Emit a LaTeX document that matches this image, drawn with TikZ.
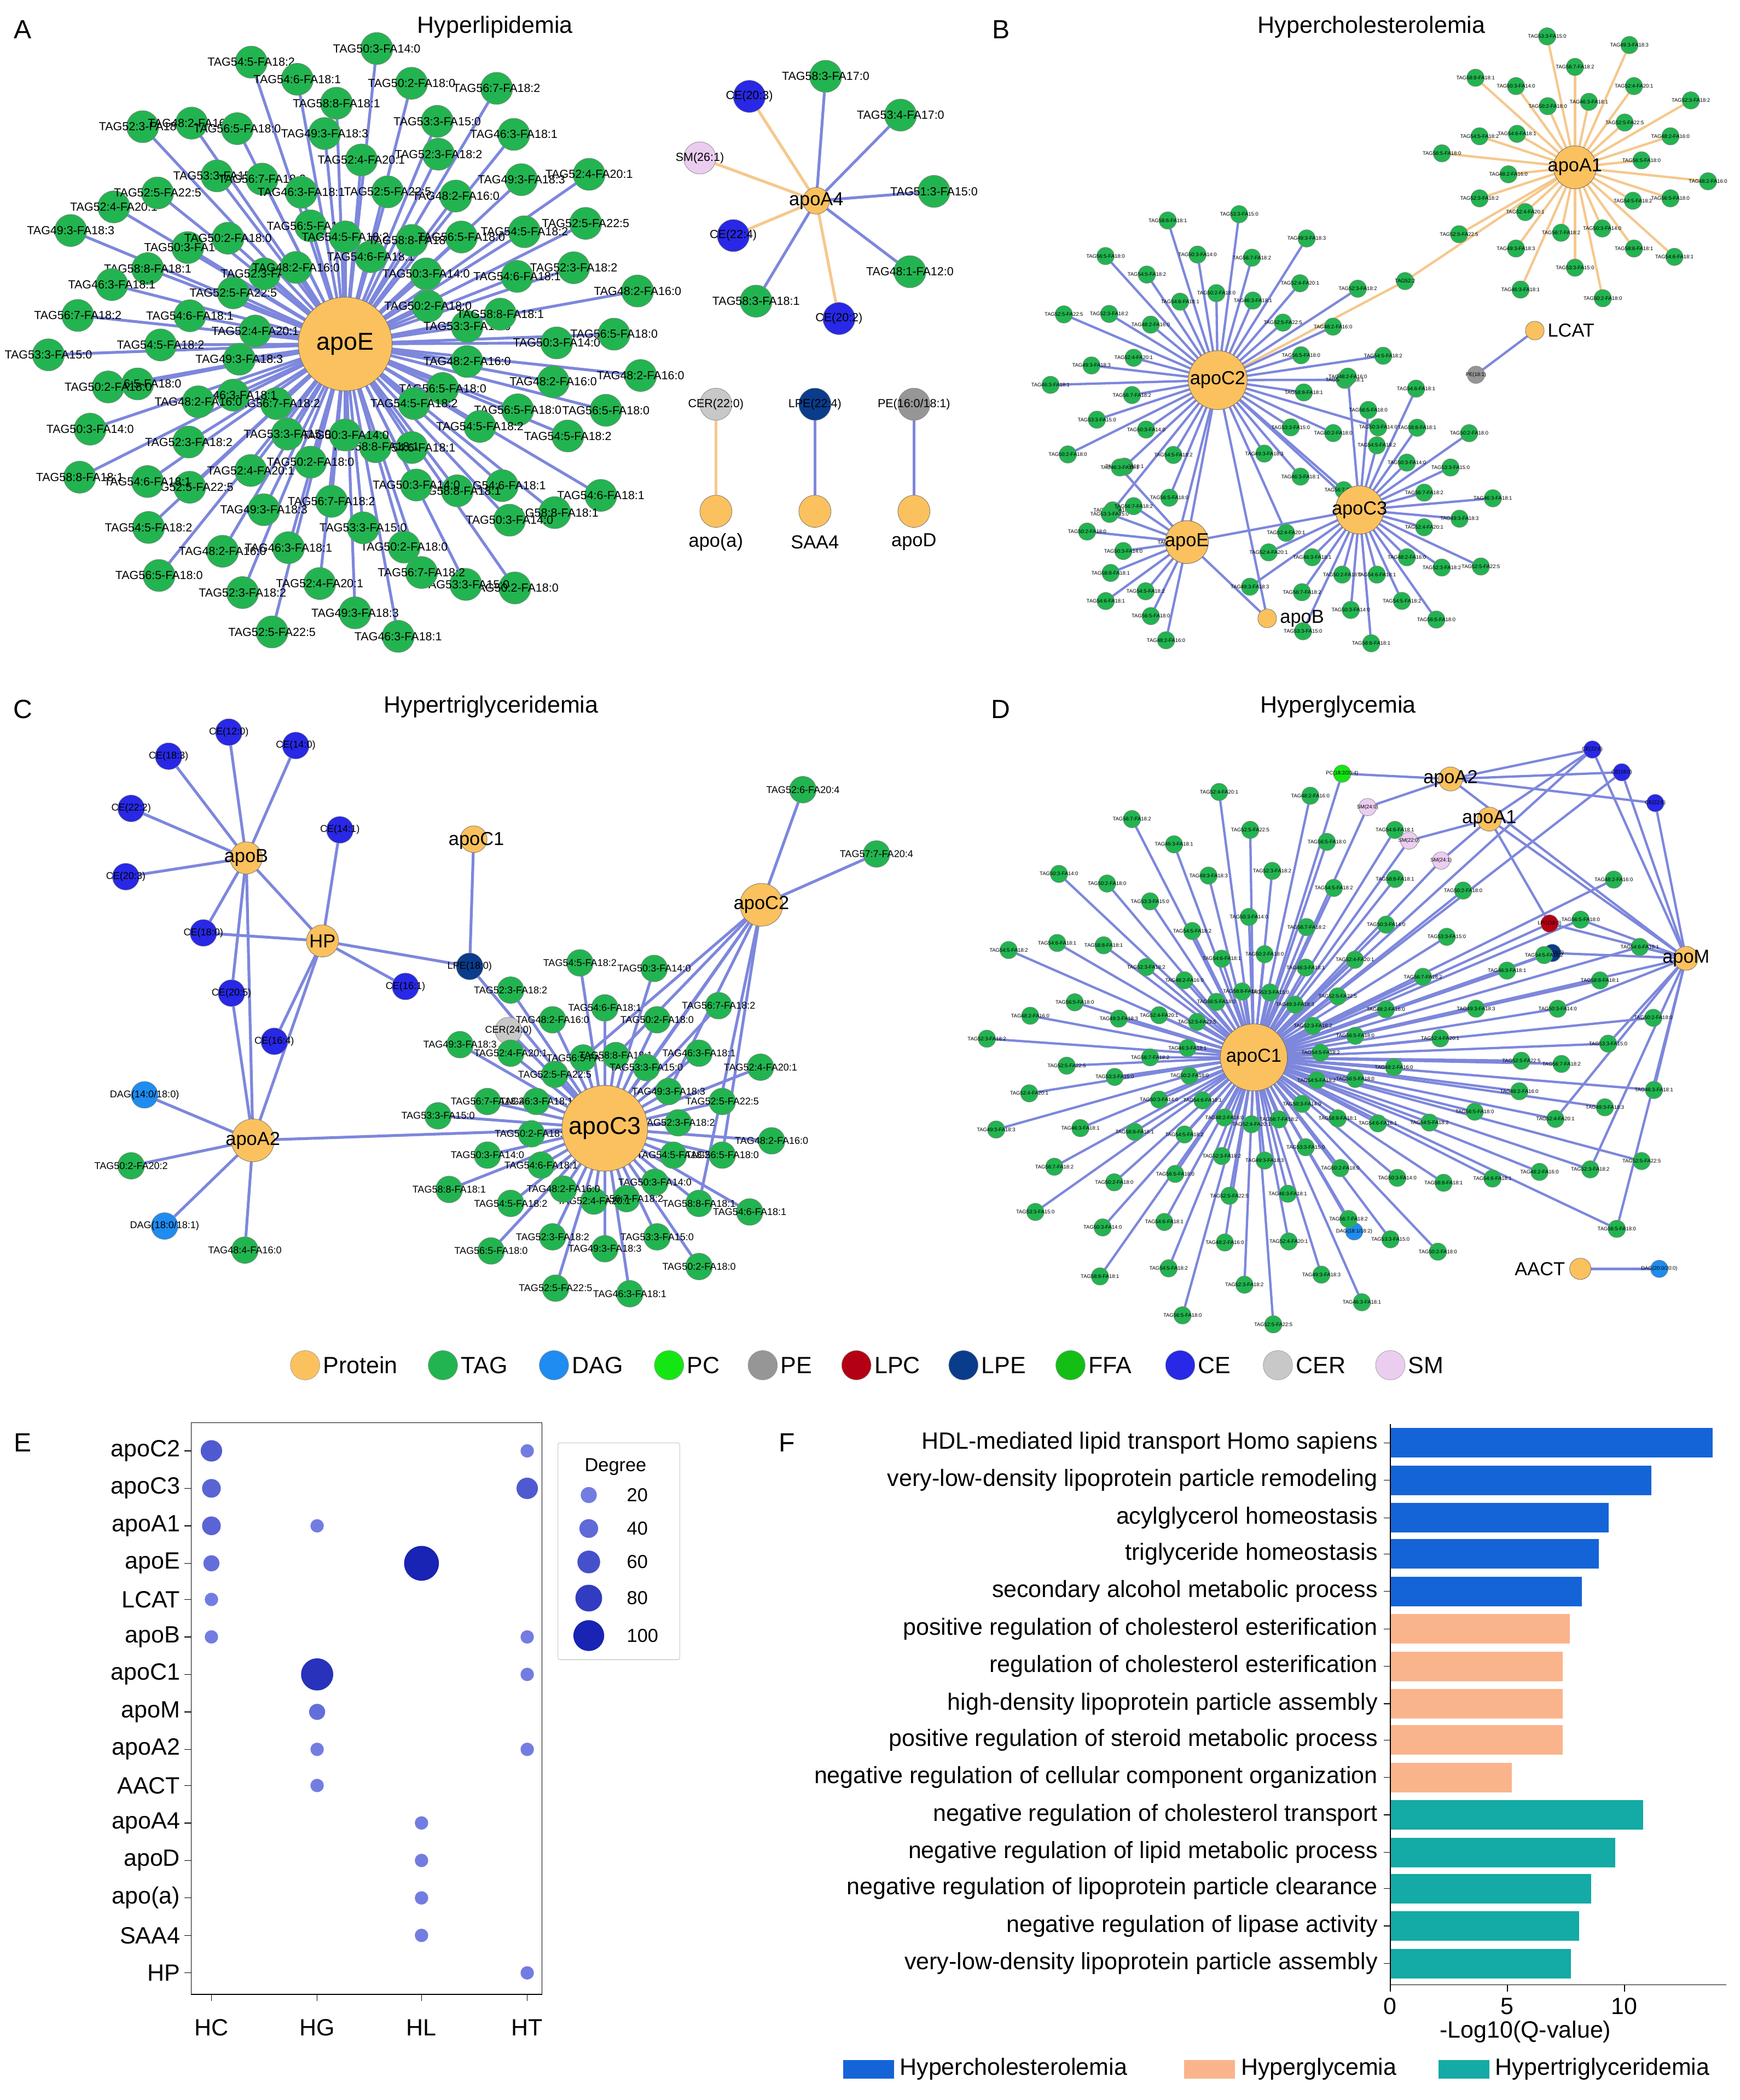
\documentclass[tikz,border=0pt]{standalone}
\usepackage{fontspec}
\setmainfont{Liberation Sans}
\usetikzlibrary{calc,backgrounds}
\definecolor{tagc}{RGB}{34,180,80}
\definecolor{protc}{RGB}{251,193,94}
\definecolor{dagc}{RGB}{30,140,240}
\definecolor{pcc}{RGB}{20,230,20}
\definecolor{pec}{RGB}{150,150,150}
\definecolor{lpcc}{RGB}{180,0,20}
\definecolor{lpec}{RGB}{10,60,140}
\definecolor{ffac}{RGB}{20,190,20}
\definecolor{cec}{RGB}{40,40,230}
\definecolor{cerc}{RGB}{200,200,200}
\definecolor{smc}{RGB}{235,205,240}
\definecolor{edgec}{RGB}{125,135,220}
\definecolor{oedgec}{RGB}{245,200,140}
\definecolor{dlight}{RGB}{125,135,230}
\definecolor{ddark}{RGB}{25,35,180}
\definecolor{fblue}{RGB}{20,100,215}
\definecolor{fpeach}{RGB}{250,180,140}
\definecolor{fteal}{RGB}{20,170,165}
\newcommand\labX[1]{\ifcase#1 TAG52:3-FA18:2\or TAG54:5-FA18:2\or TAG50:3-FA14:0\or TAG56:7-FA18:2\or TAG52:4-FA20:1\or TAG48:2-FA16:0\or TAG54:6-FA18:1\or TAG50:2-FA18:0\or TAG46:3-FA18:1\or TAG52:5-FA22:5\or TAG56:5-FA18:0\or TAG58:8-FA18:1\or TAG53:3-FA15:0\or TAG49:3-FA18:3\fi}
\newcommand\ring[8]{%
\begin{pgfonlayer}{background}
\foreach \i in {1,...,#3}{%
 \pgfmathsetmacro\ang{#6+#7/#3*(\i-0.5)}%
 \pgfmathsetmacro\rr{mod(\i,3)==0?#4:(mod(\i,3)==1?#5:(#4+#5)/2)}%
 \coordinate (#2c\i) at ($(#1)+(\ang:\rr)$);
 \draw[edge] (#1)--(#2c\i);
}
\end{pgfonlayer}
\foreach \i in {1,...,#3}{%
 \pgfmathtruncatemacro\k{mod(\i*5,14)}%
 \node[#8,label={[lab#8]center:\labX{\k}}] (#2\i) at (#2c\i) {};
}}
\tikzset{
 edge/.style={draw=edgec,line width=3pt},
 oedge/.style={draw=oedgec,line width=3pt},
 leafA/.style={circle,draw=black!50,fill=tagc,inner sep=0,minimum size=12mm},
 lableafA/.style={font=\fontsize{12.5}{13}\selectfont,inner sep=0},
 leafB/.style={circle,draw=black!50,fill=tagc,inner sep=0,minimum size=6.5mm},
 lableafB/.style={font=\fontsize{5.5}{6}\selectfont,inner sep=0},
 leafC/.style={circle,draw=black!50,fill=tagc,inner sep=0,minimum size=10mm},
 lableafC/.style={font=\fontsize{10.5}{11}\selectfont,inner sep=0},
 dot/.style={circle,draw=black!50,inner sep=0,minimum size=#1},
 dot/.default=10mm,
 prot/.style={circle,draw=black!60,fill=protc,inner sep=0,minimum size=#1},
 prot/.default=10mm,
 tit/.style={font=\fontsize{25}{28}\selectfont},
 pl/.style={font=\fontsize{28}{30}\selectfont},
 big/.style={font=\fontsize{26}{28}\selectfont},
 hl/.style={font=\fontsize{20}{22}\selectfont},
 ax/.style={font=\fontsize{25}{27}\selectfont},
}
\begin{document}
\begin{tikzpicture}[x=0.5mm,y=-0.5mm]
\useasboundingbox (0,0) rectangle (1300,1569);
\begin{pgfonlayer}{background}\fill[white] (0,0) rectangle (1300,1569);\end{pgfonlayer}
% ---------------- titles
\node[pl] at (17,22) {A}; \node[tit] at (370,20) {Hyperlipidemia};
\node[pl] at (748,22) {B}; \node[tit] at (1025,20) {Hypercholesterolemia};
\node[pl] at (17,530) {C}; \node[tit] at (367,528) {Hypertriglyceridemia};
\node[pl] at (748,530) {D}; \node[tit] at (1000,528) {Hyperglycemia};
\node[pl] at (17,1078) {E}; \node[pl] at (588,1078) {F};
% ---------------- Panel A
\node[prot=35mm] (apoE) at (258,257) {};
\ring{apoE}{aa}{22}{68}{92}{0}{360}{leafA}
\ring{apoE}{ab}{34}{118}{158}{5}{360}{leafA}
\ring{apoE}{ac}{44}{180}{222}{2}{360}{leafA}
\node[prot=35mm,label={[big]center:apoE}] at (apoE) {};
\node[prot=10mm,label={[hl]center:apoA4}] (apoA4) at (610,150) {};
\foreach \n/\x/\y/\c/\l in {a1/560/72/cec/CE(20:3), a2/617/57/tagc/TAG58:3-FA17:0, a3/673/86/tagc/TAG53:4-FA17:0, a4/523/118/smc/SM(26:1), a5/698/143/tagc/TAG51:3-FA15:0, a6/548/176/cec/CE(22:4), a7/680/203/tagc/TAG48:1-FA12:0, a8/565/225/tagc/TAG58:3-FA18:1, a9/627/238/cec/CE(20:2)}{
 \node[dot=12mm,fill=\c,label={[lableafA]center:\l}] (\n) at (\x,\y) {};}
\foreach \n/\x/\c/\l/\p/\q in {p1/535/cerc/CER(22:0)/q1/apo(a), p2/609/lpec/LPE(22:4)/q2/SAA4, p3/683/pec/{PE(16:0/18:1)}/q3/apoD}{
 \node[dot=12mm,fill=\c,label={[lableafA]center:\l}] (\n) at (\x,302) {};
 \node[prot=12mm] (\p) at (\x,382) {};
 \node[hl] at (\x,405) {\q};}
\begin{pgfonlayer}{background}
\foreach \n/\e in {a1/oedge,a2/edge,a3/edge,a4/oedge,a5/edge,a6/oedge,a7/edge,a8/edge,a9/oedge}{\draw[\e] (apoA4)--(\n);}
\draw[oedge] (p1)--(q1); \draw[edge] (p2)--(q2) (p3)--(q3);
\end{pgfonlayer}
% ---------------- Panel B
\tikzset{edge/.style={draw=edgec,line width=2.5pt},oedge/.style={draw=oedgec,line width=2.5pt}}
\node[prot=16mm] (bA1) at (1177,125) {};
\node[prot=22mm] (bC2) at (910,284) {};
\node[prot=18mm] (bC3) at (1016,381) {};
\node[prot=16mm] (bE) at (887,405) {};
\node[prot=7mm,label={[hl]right:apoB}] (bB) at (947,462) {};
\node[prot=7mm,label={[hl]right:LCAT}] (bL) at (1147,247) {};
\node[dot=6.5mm,fill=pec,label={[lableafB]center:PE(18:1)}] (bpe) at (1103,280) {};
\node[dot=6.5mm,fill=tagc,label={[lableafB]center:TAG52:2}] (bmid) at (1050,210) {};
\begin{pgfonlayer}{background}
\draw[oedge] (bC2)--(bmid)--(bA1); \draw[edge] (bpe)--(bL);
\draw[edge] (bC2)--(bC3) (bC2)--(bE) (bE)--(bC3) (bE)--(bB) (bC2)--(bB);
\end{pgfonlayer}
\tikzset{edge/.style={draw=oedgec,line width=2.5pt}}
\ring{bA1}{ba}{30}{50}{100}{0}{360}{leafB}
\tikzset{edge/.style={draw=edgec,line width=2.5pt}}
\ring{bC2}{bb}{40}{65}{125}{100}{330}{leafB}
\ring{bC3}{bc}{26}{50}{100}{-100}{260}{leafB}
\ring{bE}{bd}{10}{48}{75}{95}{140}{leafB}
\node[prot=16mm,label={[hl]center:apoA1}] at (bA1) {};
\node[prot=22mm,label={[hl]center:apoC2}] at (bC2) {};
\node[prot=18mm,label={[hl]center:apoC3}] at (bC3) {};
\node[prot=16mm,label={[hl]center:apoE}] at (bE) {};
% ---------------- Panel C
\tikzset{edge/.style={draw=edgec,line width=3pt}}
\node[prot=32mm] (cC3) at (452,843) {};
\node[prot=12mm,label={[hl]center:apoB}] (cB) at (184,641) {};
\node[prot=12mm,label={[hl]center:HP}] (cHP) at (241,703) {};
\node[prot=10mm] (cC1) at (354,627) {}; \node[hl] at (356,628) {apoC1};
\node[prot=16mm,label={[hl]center:apoC2}] (cC2) at (569,676) {};
\node[prot=16mm,label={[hl]center:apoA2}] (cA2) at (189,852) {};
\foreach \n/\x/\y/\c/\l in {c1/126/565/cec/CE(18:3), c2/171/547/cec/CE(12:0), c3/221/557/cec/CE(14:0), c4/98/604/cec/CE(22:2), c5/94/655/cec/CE(20:3), c6/152/697/cec/CE(18:0), c7/173/742/cec/CE(20:5), c8/254/620/cec/CE(14:1), c9/303/737/cec/CE(16:1), c10/205/778/cec/CE(16:4), c11/351/722/lpec/LPE(18:0), c12/108/818/dagc/{DAG(14:0/18:0)}, c13/98/871/tagc/TAG50:2-FA20:2, c14/123/916/dagc/{DAG(18:0/18:1)}, c15/183/934/tagc/TAG48:4-FA16:0, c16/600/590/tagc/TAG52:6-FA20:4, c17/655/638/tagc/TAG57:7-FA20:4, c18/380/770/cerc/CER(24:0)}{
 \node[dot=10mm,fill=\c,label={[lableafC]center:\l}] (\n) at (\x,\y) {};}
\begin{pgfonlayer}{background}
\foreach \n/\h in {c1/cB,c2/cB,c3/cB,c4/cB,c5/cB,c6/cB,c7/cB,c8/cHP,c9/cHP,c10/cHP,c11/cHP,c12/cA2,c13/cA2,c14/cA2,c15/cA2,c16/cC2,c17/cC2,c18/cC3}{\draw[edge] (\h)--(\n);}
\draw[edge] (cB)--(cHP) (cB)--(cA2) (cHP)--(cA2) (cA2)--(cC3) (cC1)--(c11) (c11)--(cC3) (cC2)--(cC3) (c6)--(cHP) (c7)--(cA2);
\end{pgfonlayer}
\ring{cC3}{cr}{42}{55}{125}{0}{360}{leafC}
\begin{pgfonlayer}{background}
\foreach \j in {30,33,36,39,2,5} {\draw[edge] (cC2)--(cr\j);}
\end{pgfonlayer}
\node[prot=32mm,label={[big]center:apoC3}] at (cC3) {};
% ---------------- Panel D
\tikzset{edge/.style={draw=edgec,line width=2.5pt}}
\node[prot=25mm] (dC1) at (937,790) {};
\node[prot=9mm,label={[hl]center:apoA2}] (dA2) at (1084,582) {};
\node[prot=9mm,label={[hl]center:apoA1}] (dA1) at (1113,612) {};
\node[prot=9mm,label={[hl]center:apoM}] (dM) at (1260,716) {};
\node[prot=8mm] (dAA) at (1181,948) {}; \node[hl,anchor=east] at (1172,948) {AACT};
\node[dot=6.5mm,fill=dagc,label={[lableafB]center:DAG(20:0/20:0)}] (ddag) at (1240,948) {};
\foreach \n/\x/\y/\c/\l in {d1/1190/560/cec/CE(22:6), d2/1212/577/cec/CE(18:0), d3/1237/600/cec/CE(22:5), d4/1003/578/pcc/{PC(18:2/20:4)}, d5/1022/603/smc/SM(24:0), d6/1053/628/smc/SM(22:0), d7/1077/643/smc/SM(24:1), d8/1158/690/lpcc/LPC(18:0), d9/1160/712/lpec/LPE(18:0), d10/1012/920/dagc/{DAG(18:1/18:2)}}{
 \node[dot=6.5mm,fill=\c,label={[lableafB]center:\l}] (\n) at (\x,\y) {};}
\begin{pgfonlayer}{background}
\draw[edge] (dAA)--(ddag);
\foreach \a/\b in {dC1/d4,dC1/d5,dC1/d6,dC1/d7,dC1/d1,dC1/d2,dC1/d8,dC1/d9,dA2/d1,dA2/d2,dA2/d3,dA2/d4,dA2/d5,dA1/d6,dA1/d7,dA1/d1,dA1/dM,dA2/dM,dM/d1,dM/d2,dM/d3,dM/d8,dM/d9,dC1/dM,dC1/d10,dA1/d8}{\draw[edge] (\a)--(\b);}
\end{pgfonlayer}
\ring{dC1}{da}{45}{50}{105}{0}{360}{leafB}
\ring{dC1}{db}{55}{140}{200}{4}{360}{leafB}
\ring{dC1}{dc}{16}{230}{300}{-28}{55}{leafB}
\begin{pgfonlayer}{background}
\foreach \j in {2,4,6,8,10,12,14,16}{\draw[edge] (dM)--(dc\j);}
\end{pgfonlayer}
\node[prot=25mm,label={[hl]center:apoC1}] at (dC1) {};
% ---------------- legend
\foreach \x/\c/\l in {228/protc/Protein,331/tagc/TAG,414/dagc/DAG,500/pcc/PC,570/pec/PE,640/lpcc/LPC,720/lpec/LPE,800/ffac/FFA,882/cec/CE,955/cerc/CER,1039/smc/SM}{
 \node[dot=11mm,fill=\c,draw=black!40] (lg\l) at (\x,1020) {};
 \node[ax,anchor=west] at (\x+11,1020) {\l};}
% ---------------- Panel E
\draw[line width=0.8pt] (143,1063) rectangle (405,1490);
\foreach \l/\y in {apoC2/1084,apoC3/1112,apoA1/1140,apoE/1168,LCAT/1195,apoB/1223,apoC1/1251,apoM/1279,apoA2/1307,AACT/1334,apoA4/1362,apoD/1390,apo(a)/1418,SAA4/1446,HP/1474}{
 \node[ax,anchor=east] at (137,\y) {\l}; \draw[line width=0.8pt] (138,\y)--(143,\y);}
\foreach \l/\x in {HC/158,HG/237,HL/315,HT/394}{
 \node[ax] at (\x,1515) {\l}; \draw[line width=0.8pt] (\x,1490)--(\x,1495);}
\foreach \x/\y/\r/\s in {158/1084/8/45,158/1112/7/35,158/1140/7/35,158/1168/6/25,158/1195/5/10,158/1223/5/10,
 237/1140/5/10,237/1251/12/85,237/1279/6/25,237/1307/5/10,237/1334/5/10,
 315/1168/13/100,315/1362/5/10,315/1390/5/10,315/1418/5/10,315/1446/5/10,
 394/1084/5/10,394/1112/8/45,394/1223/5/10,394/1251/5/10,394/1307/5/10,394/1474/5/10}{
 \fill[ddark!\s!dlight] (\x,\y) circle (\r);}
\draw[black!30,rounded corners=2] (417,1078) rectangle (508,1240);
\node[font=\fontsize{20}{22}\selectfont] at (460,1096) {Degree};
\foreach \y/\r/\l/\s in {1117/6/20/10,1142/7/40/30,1167/8.5/60/55,1194/10/80/75,1222/11.5/100/100}{
 \fill[ddark!\s!dlight] (440,\y) circle (\r);
 \node[font=\fontsize{20}{22}\selectfont,anchor=west] at (466,\y) {\l};}
% ---------------- Panel F
\foreach \y/\e/\c/\l in {
1078/1280/fblue/HDL-mediated lipid transport Homo sapiens,
1106/1234/fblue/very-low-density lipoprotein particle remodeling,
1134/1202/fblue/acylglycerol homeostasis,
1161/1195/fblue/triglyceride homeostasis,
1189/1182/fblue/secondary alcohol metabolic process,
1217/1173/fpeach/positive regulation of cholesterol esterification,
1245/1168/fpeach/regulation of cholesterol esterification,
1273/1168/fpeach/high-density lipoprotein particle assembly,
1300/1168/fpeach/positive regulation of steroid metabolic process,
1328/1130/fpeach/negative regulation of cellular component organization,
1356/1228/fteal/negative regulation of cholesterol transport,
1384/1207/fteal/negative regulation of lipid metabolic process,
1411/1189/fteal/negative regulation of lipoprotein particle clearance,
1439/1180/fteal/negative regulation of lipase activity,
1467/1174/fteal/very-low-density lipoprotein particle assembly}{
 \fill[\c] (1039,\y-11) rectangle (\e,\y+11);
 \node[ax,anchor=east] at (1032,\y) {\l};
 \draw[line width=0.8pt] (1034,\y)--(1039,\y);}
\draw[line width=0.8pt] (1039,1064)--(1039,1483)--(1290,1483);
\foreach \v in {0,5,10}{\draw[line width=0.8pt] (1039+17.5*\v,1483)--(1039+17.5*\v,1488); \node[ax] at (1039+17.5*\v,1499) {\v};}
\node[ax] at (1140,1518) {-Log10(Q-value)};
\foreach \x/\c/\l in {630/fblue/Hypercholesterolemia,885/fpeach/Hyperglycemia,1075/fteal/Hypertriglyceridemia}{
 \fill[\c] (\x,1539) rectangle (\x+38,1553);
 \node[ax,anchor=west] at (\x+40,1546) {\l};}
\end{tikzpicture}
\end{document}
